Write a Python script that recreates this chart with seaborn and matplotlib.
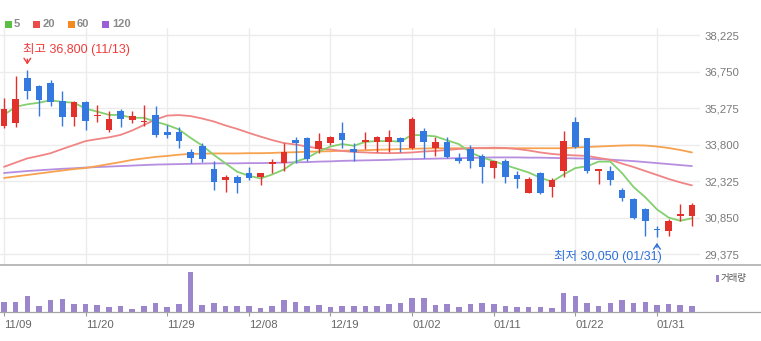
import numpy as np
import pandas as pd
import matplotlib
matplotlib.use("Agg")
import matplotlib.pyplot as plt
import seaborn as sns
from matplotlib.patches import Rectangle
from matplotlib.lines import Line2D

# ---------------- data ----------------
dates = ["2023-11-09", "2023-11-10", "2023-11-13", "2023-11-14", "2023-11-15", "2023-11-16",
         "2023-11-17", "2023-11-20", "2023-11-21", "2023-11-22", "2023-11-23", "2023-11-24",
         "2023-11-27", "2023-11-28", "2023-11-29", "2023-11-30", "2023-12-01", "2023-12-04",
         "2023-12-05", "2023-12-06", "2023-12-07", "2023-12-08", "2023-12-11", "2023-12-12",
         "2023-12-13", "2023-12-14", "2023-12-15", "2023-12-18", "2023-12-19", "2023-12-20",
         "2023-12-21", "2023-12-22", "2023-12-26", "2023-12-27", "2023-12-28", "2024-01-02",
         "2024-01-03", "2024-01-04", "2024-01-05", "2024-01-08", "2024-01-09", "2024-01-10",
         "2024-01-11", "2024-01-12", "2024-01-15", "2024-01-16", "2024-01-17", "2024-01-18",
         "2024-01-19", "2024-01-22", "2024-01-23", "2024-01-24", "2024-01-25", "2024-01-26",
         "2024-01-29", "2024-01-30", "2024-01-31", "2024-02-01", "2024-02-02", "2024-02-05"]

opens = [34550, 34650, 36500, 36150, 36300, 35550, 34900, 35500, 34950, 34400,
         35150, 34800, 34700, 35000, 34300, 34300, 33500, 33750, 32800, 32350,
         32500, 32650, 32500, 33000, 33050, 34000, 34050, 33600, 33850, 34250,
         33600, 33900, 33900, 33900, 34050, 33650, 34350, 33650, 33900, 33250,
         33600, 33350, 32850, 33150, 32550, 31850, 32650, 32100, 32750, 34700,
         34050, 32750, 32750, 31950, 31600, 31200, 30400, 30300, 30900, 30900]
highs = [35700, 36550, 36800, 36200, 36400, 35950, 35550, 35550, 35400, 35150,
         35250, 35150, 35400, 35350, 34600, 34500, 33600, 33850, 33150, 32550,
         32550, 32900, 32650, 33200, 33850, 34100, 34100, 34250, 34150, 34700,
         33850, 34300, 34150, 34400, 34100, 34900, 34450, 34100, 34100, 33450,
         33800, 33400, 33150, 33200, 32750, 32500, 32700, 32450, 34350, 34900,
         34050, 32800, 32950, 32050, 31650, 31250, 30500, 30800, 31400, 31450]
lows = [34450, 34500, 35650, 34950, 35350, 34550, 34550, 34400, 34700, 34300,
        34500, 34650, 34550, 34100, 34050, 33650, 33050, 33100, 31950, 31900,
        31850, 32350, 32150, 32650, 32750, 33050, 33150, 33450, 33800, 33650,
        33150, 33600, 33500, 33500, 33500, 33600, 33250, 33350, 33250, 33050,
        32850, 32250, 32450, 32250, 32050, 31850, 31800, 31700, 32500, 33650,
        32650, 32200, 32150, 31500, 30800, 30100, 30050, 30100, 30700, 30500]
closes = [35250, 35650, 35950, 35600, 35500, 34900, 35500, 34750, 35000, 34850,
          34850, 34950, 34750, 34200, 34200, 33950, 33250, 33200, 32300, 32500,
          32250, 32450, 32650, 33100, 33500, 33850, 33200, 33950, 34100, 34000,
          33500, 34000, 34100, 34100, 33900, 34850, 33900, 33900, 33300, 33150,
          33150, 32900, 33150, 32500, 32400, 32400, 31850, 32350, 33950, 33700,
          32750, 32800, 32350, 31650, 30850, 30700, 30350, 30700, 31000, 31350]
# closes of the 4 sessions before the first shown day (for the 5-day average)
prior_closes = [33975, 35465, 35275, 35000]

volume = [310, 310, 490, 180, 350, 380, 250, 250, 220, 150,
          180, 90, 180, 280, 150, 250, 1200, 220, 280, 180,
          180, 180, 110, 180, 350, 310, 180, 220, 150, 180,
          180, 180, 180, 250, 280, 420, 420, 220, 250, 150,
          250, 280, 250, 180, 150, 150, 150, 110, 580, 490,
          280, 180, 280, 350, 280, 310, 220, 250, 220, 180]

ma20 = [32900, 33070, 33240, 33340, 33450, 33620, 33780, 33940, 34020, 34090,
        34190, 34370, 34590, 34810, 34970, 34990, 34950, 34850, 34730, 34570,
        34430, 34270, 34120, 33980, 33860, 33800, 33720, 33640, 33600, 33540,
        33500, 33480, 33460, 33450, 33460, 33480, 33520, 33540, 33580, 33620,
        33650, 33660, 33670, 33660, 33620, 33560, 33480, 33420, 33380, 33360,
        33340, 33260, 33180, 33030, 32890, 32730, 32570, 32410, 32270, 32150]
ma60 = [32450, 32510, 32570, 32630, 32690, 32750, 32810, 32850, 32930, 33010,
        33090, 33180, 33240, 33300, 33340, 33390, 33420, 33430, 33440, 33440,
        33440, 33450, 33450, 33460, 33480, 33490, 33510, 33520, 33530, 33550,
        33560, 33570, 33590, 33600, 33620, 33630, 33640, 33650, 33650, 33650,
        33650, 33650, 33650, 33650, 33650, 33650, 33650, 33650, 33650, 33680,
        33700, 33720, 33740, 33760, 33770, 33760, 33720, 33660, 33580, 33480]
ma120 = [32650, 32690, 32730, 32760, 32790, 32820, 32840, 32870, 32890, 32910,
         32930, 32950, 32970, 32990, 33000, 33010, 33020, 33030, 33040, 33040,
         33040, 33050, 33050, 33060, 33070, 33080, 33090, 33110, 33120, 33140,
         33150, 33160, 33170, 33180, 33200, 33210, 33220, 33230, 33240, 33250,
         33260, 33270, 33280, 33280, 33280, 33270, 33270, 33260, 33250, 33240,
         33230, 33210, 33190, 33160, 33130, 33090, 33050, 33010, 32970, 32930]

price_ticks = [38225, 36750, 35275, 33800, 32325, 30850, 29375]
date_tick_step = 7
legend_labels = ["5", "20", "60", "120"]
volume_label = "거래량"

# ---------------- styling ----------------
RED = "#e2312b"
BLUE = "#3479e0"
MA_COLORS = {"ma5": "#84d06e", "ma20": "#f08585", "ma60": "#f7a24f", "ma120": "#b68ee0"}
LEG_COLORS = ["#5bbf45", "#ec4b4b", "#f4891f", "#9b5fd6"]
VOL_COLOR = "#9c86cb"
GRID = "#ececec"

sns.set_theme(style="white")
plt.rcParams["font.family"] = ["Liberation Sans", "Noto Sans CJK KR", "DejaVu Sans"]

df = pd.DataFrame({
    "idx": np.arange(len(dates)),
    "date": pd.to_datetime(dates),
    "open": opens, "high": highs, "low": lows, "close": closes,
    "volume": volume, "ma20": ma20, "ma60": ma60, "ma120": ma120,
})
ext = pd.Series(prior_closes + closes, dtype=float)
df["ma5"] = ext.rolling(5).mean().iloc[len(prior_closes):].to_numpy()

W, H = 761, 341
fig = plt.figure(figsize=(W / 100, H / 100), dpi=100)
fx = lambda px: px / W
fy = lambda py: 1 - py / H

ax = fig.add_axes([0, fy(265), fx(700), (265 - 28) / H])
axv = fig.add_axes([0, fy(312), fx(700), (312 - 265) / H])

xlim = (-4 / 11.66, 696 / 11.66)
tick_idx = list(range(0, len(dates), date_tick_step))

# moving averages (under the candles)
for key in ["ma120", "ma60", "ma20", "ma5"]:
    sns.lineplot(data=df, x="idx", y=key, color=MA_COLORS[key], lw=1.3, ax=ax,
                 zorder=2, legend=False)

# candles
up = df["close"] >= df["open"]
colors = np.where(up, RED, BLUE)
ax.vlines(df["idx"], df["low"], df["high"], colors=colors, lw=1.0, zorder=3)
body_bottom = np.minimum(df["open"], df["close"])
body_h = np.maximum((df["close"] - df["open"]).abs(), 45)
ax.bar(df["idx"], body_h, bottom=body_bottom, width=0.57, color=colors,
       linewidth=0, zorder=4)

ax.set_xlim(*xlim)
ax.set_ylim(28933, 38508)
ax.set_yticks(price_ticks)
ax.set_yticklabels([f"{v:,}" for v in price_ticks])
ax.yaxis.tick_right()
ax.tick_params(axis="y", length=0, pad=3, labelsize=8.2, labelcolor="#7a7a7a")
ax.set_xticks(tick_idx)
ax.tick_params(axis="x", length=0, labelbottom=False)
ax.grid(True, color=GRID, lw=1.0)
ax.set_axisbelow(True)
ax.set_xlabel("")
ax.set_ylabel("")
for s in ax.spines.values():
    s.set_visible(False)

# high / low annotations
imax = int(df["high"].idxmax())
hi = df["high"].iloc[imax]
ax.text(imax - 0.37, hi + 820, f"최고 {hi:,} ({df['date'].iloc[imax]:%m/%d})",
        color="#f03b3b", fontsize=9, ha="left", va="center", zorder=6)
ax.annotate("", xy=(imax, hi + 120), xytext=(imax, hi + 560),
            arrowprops=dict(arrowstyle="->,head_length=0.3,head_width=0.2",
                            color="#f03b3b", lw=1.0), zorder=6)
imin = int(df["low"].idxmin())
lo = df["low"].iloc[imin]
ax.text(imin + 0.43, lo - 790, f"최저 {lo:,} ({df['date'].iloc[imin]:%m/%d})",
        color="#2d6fd8", fontsize=9, ha="right", va="center", zorder=6)
ax.annotate("", xy=(imin, lo - 110), xytext=(imin, lo - 520),
            arrowprops=dict(arrowstyle="->,head_length=0.3,head_width=0.2",
                            color="#2d6fd8", lw=1.0), zorder=6)

# volume
sns.barplot(data=df, x="idx", y="volume", native_scale=True, width=0.48,
            color=VOL_COLOR, saturation=1, linewidth=0, ax=axv, errorbar=None)
axv.set_xlim(*xlim)
axv.set_ylim(0, 1410)
axv.set_yticks([])
axv.set_xticks(tick_idx)
axv.set_xticklabels([f"{d:%m/%d}" for d in df["date"].iloc[tick_idx]], ha="left")
axv.tick_params(axis="x", length=3, width=0.8, color="#9a9a9a", pad=3,
                labelsize=8.2, labelcolor="#666666", bottom=True)
axv.set_xlabel("")
axv.set_ylabel("")
axv.grid(False)
for s in axv.spines.values():
    s.set_visible(False)

# separators
fig.add_artist(Line2D([0, 1], [fy(265), fy(265)], color="#b4b4b4", lw=1.3))
fig.add_artist(Line2D([0, 1], [fy(312), fy(312)], color="#a5a5a5", lw=0.9))

# legend of moving averages
sq_x = [5, 33, 68, 102]
tx_x = [14, 43, 77, 112]
for sx, tx, c, lab in zip(sq_x, tx_x, LEG_COLORS, legend_labels):
    fig.add_artist(Rectangle((fx(sx), fy(27.5)), 7 / W, 7 / H, color=c,
                             transform=fig.transFigure, lw=0))
    fig.text(fx(tx), fy(24.2), lab, fontsize=8, fontweight="bold",
             color="#8a8a8a", ha="left", va="center")

# volume legend
fig.add_artist(Rectangle((fx(716), fy(282)), 2.5 / W, 7 / H, color=VOL_COLOR,
                         transform=fig.transFigure, lw=0))
fig.text(fx(721), fy(278.5), volume_label, fontsize=6.8, color="#555555",
         ha="left", va="center")

fig.savefig("out.png", dpi=100)
